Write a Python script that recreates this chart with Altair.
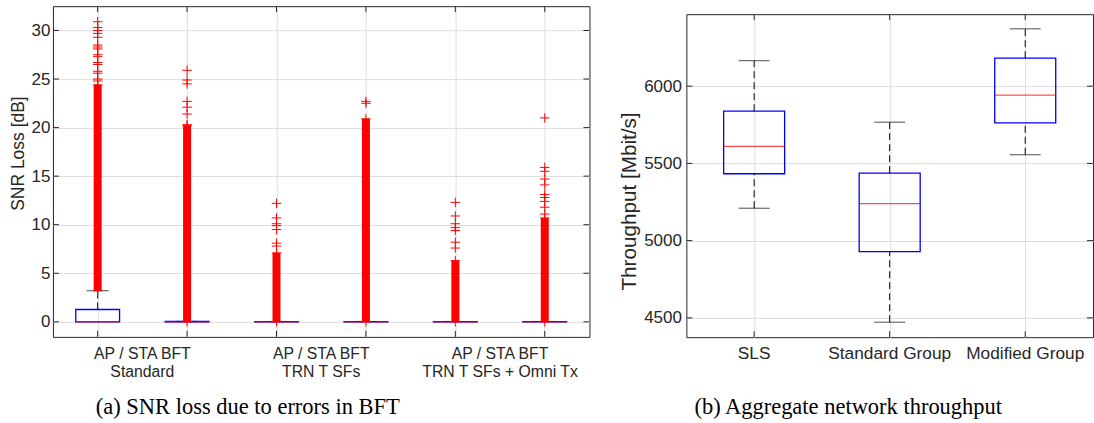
import altair as alt
import pandas as pd

# ---------------- data: left panel (SNR loss) ----------------
left_pos = [1, 2, 3, 4, 5, 6]
left_q1 = [0, 0, 0, 0, 0, 0]
left_med = [0, 0, 0, 0, 0, 0]
left_q3 = [1.27, 0.04, 0.03, 0.03, 0.03, 0.03]
left_wlo = [0, 0, 0, 0, 0, 0]
left_whi = [3.2, 0.05, 0.04, 0.04, 0.04, 0.04]
# dense runs of outliers (lowest / highest value of the packed run)
dense_lo = [3.2, 0.0, 0.0, 0.0, 0.0, 0.0]
dense_hi = [24.4, 20.2, 7.1, 20.9, 6.3, 10.7]
# isolated outliers above the packed runs
out_g1 = [30.9, 30.3, 30.0, 29.7, 29.3, 28.5, 28.3, 28.1, 27.5, 27.3, 26.7, 26.5, 25.8, 25.6, 25.0, 24.8]
out_g2 = [25.9, 24.9, 24.5, 22.7, 22.1, 21.4, 20.3]
out_g3 = [12.2, 10.7, 10.1, 9.9, 9.5, 8.1, 7.8]
out_g4 = [22.7, 22.5]
out_g5 = [12.3, 10.9, 10.1, 9.7, 9.4, 8.2, 7.6]
out_g6 = [21.0, 15.9, 15.5, 14.7, 14.1, 13.1, 12.8, 12.4, 11.8, 11.1]
left_labels = ["AP / STA BFT\nStandard", "AP / STA BFT\nTRN T SFs", "AP / STA BFT\nTRN T SFs + Omni Tx"]
left_label_pos = [1.5, 3.5, 5.5]
left_yticks = [0, 5, 10, 15, 20, 25, 30]
left_title = "SNR Loss [dB]"
left_caption = "(a) SNR loss due to errors in BFT"

# ---------------- data: right panel (throughput) ----------------
right_names = ["SLS", "Standard Group", "Modified Group"]
right_pos = [1, 2, 3]
right_wlo = [5210, 4472, 5556]
right_q1 = [5433, 4929, 5763]
right_med = [5610, 5239, 5942]
right_q3 = [5838, 5437, 6181]
right_whi = [6165, 5767, 6371]
right_yticks = [4500, 5000, 5500, 6000]
right_title = "Throughput [Mbit/s]"
right_caption = "(b) Aggregate network throughput"

# ---------------- style ----------------
FRAME = "#262626"
GRID = "#dedede"
BLUE = "#0000ff"
RED = "#ff0000"
PLUS = "M-1,0H1M0,-1V1"
FONT = "Liberation Sans"

LW, LH = 537, 331
RW, RH = 407, 323.3

# ---------------- left panel ----------------
lbox = pd.DataFrame({"pos": left_pos, "q1": left_q1, "med": left_med, "q3": left_q3,
                     "wlo": left_wlo, "whi": left_whi, "lo": dense_lo, "hi": dense_hi})
outs = [out_g1, out_g2, out_g3, out_g4, out_g5, out_g6]
rows = []
for p, lst, lo, hi in zip(left_pos, outs, dense_lo, dense_hi):
    for v in lst + [lo, hi]:
        rows.append({"pos": p, "v": v})
lout = pd.DataFrame(rows)

lxs = alt.Scale(domain=[0.5, 6.5], nice=False, zero=False)
lys = alt.Scale(domain=[-1.55, 32.5], nice=False, zero=False)
lxa = alt.Axis(values=left_pos, labels=False, ticks=False, domain=False, grid=True, title=None)
lya = alt.Axis(values=left_yticks, ticks=False, domain=False, grid=True, title=left_title,
               labelFontSize=17, labelPadding=3, titleFontSize=17.5, titleFontWeight="normal",
               titleX=-34, titleY=147, titleBaseline="middle", titleAlign="center")


def LX(f):
    return alt.X(f, type="quantitative", scale=lxs, axis=lxa)


def LY(f):
    return alt.Y(f, type="quantitative", scale=lys, axis=lya)


lb = alt.Chart(lbox)
l_box = lb.mark_rect(fillOpacity=0, stroke=BLUE, strokeWidth=1.3).transform_calculate(
    xl="datum.pos - 0.245", xr="datum.pos + 0.245"
).encode(x=LX("xl"), x2="xr:Q", y=LY("q1"), y2="q3:Q")
l_wu = lb.mark_rule(color="black", strokeDash=[7, 4], strokeWidth=1).encode(x=LX("pos"), y=LY("q3"), y2="whi:Q")
l_wl = lb.mark_rule(color="black", strokeDash=[7, 4], strokeWidth=1).encode(x=LX("pos"), y=LY("wlo"), y2="q1:Q")
l_cu = lb.mark_tick(orient="horizontal", size=22, thickness=1, color="black").encode(x=LX("pos"), y=LY("whi"))
l_med = lb.mark_tick(orient="horizontal", size=44, thickness=1.2, color=RED).encode(x=LX("pos"), y=LY("med"))
l_dense = lb.mark_rule(color=RED, strokeWidth=8).encode(x=LX("pos"), y=LY("lo"), y2="hi:Q")
l_out = alt.Chart(lout).mark_point(shape=PLUS, filled=False, stroke=RED, strokeWidth=1, size=90, opacity=1).encode(
    x=LX("pos"), y=LY("v"))

lyt = alt.Chart(pd.DataFrame({"v": left_yticks}))
lxt = alt.Chart(pd.DataFrame({"v": left_pos}))
l_tk1 = lyt.mark_rule(color=FRAME).encode(y=LY("v"), x=alt.value(0), x2=alt.value(6))
l_tk2 = lyt.mark_rule(color=FRAME).encode(y=LY("v"), x=alt.value(LW - 6), x2=alt.value(LW))
l_tk3 = lxt.mark_rule(color=FRAME).encode(x=LX("v"), y=alt.value(LH - 6), y2=alt.value(LH))
l_tk4 = lxt.mark_rule(color=FRAME).encode(x=LX("v"), y=alt.value(0), y2=alt.value(6))

l_lab = alt.Chart(pd.DataFrame({"p": left_label_pos, "t": left_labels})).mark_text(
    lineBreak="\n", fontSize=15.8, lineHeight=18, baseline="middle", align="center", color=FRAME, font=FONT
).encode(x=LX("p"), y=alt.value(348), text="t:N")
l_cap = alt.Chart(pd.DataFrame({"t": [left_caption]})).mark_text(
    font="Liberation Serif", fontSize=22.5, baseline="alphabetic", align="center", color="black"
).encode(x=alt.value(195), y=alt.value(408), text="t:N")
l_bound = alt.Chart(pd.DataFrame({"t": [0]})).mark_rule(strokeOpacity=0, strokeWidth=0.01).encode(
    x=alt.value(-52), y=alt.value(-5), y2=alt.value(418))

left = alt.layer(l_box, l_wu, l_wl, l_cu, l_med, l_dense, l_out,
                 l_tk1, l_tk2, l_tk3, l_tk4, l_lab, l_cap, l_bound).properties(width=LW, height=LH)

# ---------------- right panel ----------------
rbox = pd.DataFrame({"pos": right_pos, "q1": right_q1, "med": right_med, "q3": right_q3,
                     "wlo": right_wlo, "whi": right_whi, "name": right_names})
rxs = alt.Scale(domain=[0.5, 3.5], nice=False, zero=False)
rys = alt.Scale(domain=[4375, 6466], nice=False, zero=False)
rxa = alt.Axis(values=right_pos, labels=False, ticks=False, domain=False, grid=True, title=None)
rya = alt.Axis(values=right_yticks, format="d", ticks=False, domain=False, grid=True, title=right_title,
               labelFontSize=17, labelPadding=5, titleFontSize=20.7, titleFontWeight="normal",
               titleX=-57, titleY=187, titleBaseline="middle", titleAlign="center")


def RX(f):
    return alt.X(f, type="quantitative", scale=rxs, axis=rxa)


def RY(f):
    return alt.Y(f, type="quantitative", scale=rys, axis=rya)


rb = alt.Chart(rbox)
r_box = rb.mark_rect(fillOpacity=0, stroke=BLUE, strokeWidth=1.3).transform_calculate(
    xl="datum.pos - 0.225", xr="datum.pos + 0.225"
).encode(x=RX("xl"), x2="xr:Q", y=RY("q1"), y2="q3:Q")
r_wu = rb.mark_rule(color="black", strokeDash=[7, 4], strokeWidth=1).encode(x=RX("pos"), y=RY("q3"), y2="whi:Q")
r_wl = rb.mark_rule(color="black", strokeDash=[7, 4], strokeWidth=1).encode(x=RX("pos"), y=RY("wlo"), y2="q1:Q")
r_cu = rb.mark_tick(orient="horizontal", size=31, thickness=1, color="black").encode(x=RX("pos"), y=RY("whi"))
r_cl = rb.mark_tick(orient="horizontal", size=31, thickness=1, color="black").encode(x=RX("pos"), y=RY("wlo"))
r_med = rb.mark_tick(orient="horizontal", size=61, thickness=1.2, color=RED).encode(x=RX("pos"), y=RY("med"))

ryt = alt.Chart(pd.DataFrame({"v": right_yticks}))
rxt = alt.Chart(pd.DataFrame({"v": right_pos}))
r_tk1 = ryt.mark_rule(color=FRAME).encode(y=RY("v"), x=alt.value(0), x2=alt.value(6))
r_tk2 = ryt.mark_rule(color=FRAME).encode(y=RY("v"), x=alt.value(RW - 6), x2=alt.value(RW))
r_tk3 = rxt.mark_rule(color=FRAME).encode(x=RX("v"), y=alt.value(RH - 6), y2=alt.value(RH))
r_tk4 = rxt.mark_rule(color=FRAME).encode(x=RX("v"), y=alt.value(0), y2=alt.value(6))

r_lab = rb.mark_text(fontSize=17.3, baseline="middle", align="center", color=FRAME, font=FONT).encode(
    x=RX("pos"), y=alt.value(340), text="name:N")
r_cap = alt.Chart(pd.DataFrame({"t": [right_caption]})).mark_text(
    font="Liberation Serif", fontSize=22.5, baseline="alphabetic", align="center", color="black"
).encode(x=alt.value(162), y=alt.value(400.3), text="t:N")

right = alt.layer(r_box, r_wu, r_wl, r_cu, r_cl, r_med, r_tk1, r_tk2, r_tk3, r_tk4,
                  r_lab, r_cap).properties(width=RW, height=RH)

spacer = alt.Chart(pd.DataFrame({"s": [0]})).mark_point(opacity=0).encode(
    x=alt.value(0), y=alt.value(0)).properties(width=RW, height=7.7, view=alt.ViewBackground(stroke=None))

right_col = alt.vconcat(spacer, right, spacing=0, bounds="flush")

chart = alt.hconcat(left, right_col, spacing=97, bounds="flush").properties(
    padding=0, background="white"
).configure_view(stroke=FRAME, strokeWidth=1).configure_axis(
    labelColor=FRAME, titleColor=FRAME, gridColor=GRID, gridWidth=1, labelFont=FONT, titleFont=FONT
).configure_text(font=FONT)

chart.save("out.html", embed_options={"renderer": "svg", "actions": False})
